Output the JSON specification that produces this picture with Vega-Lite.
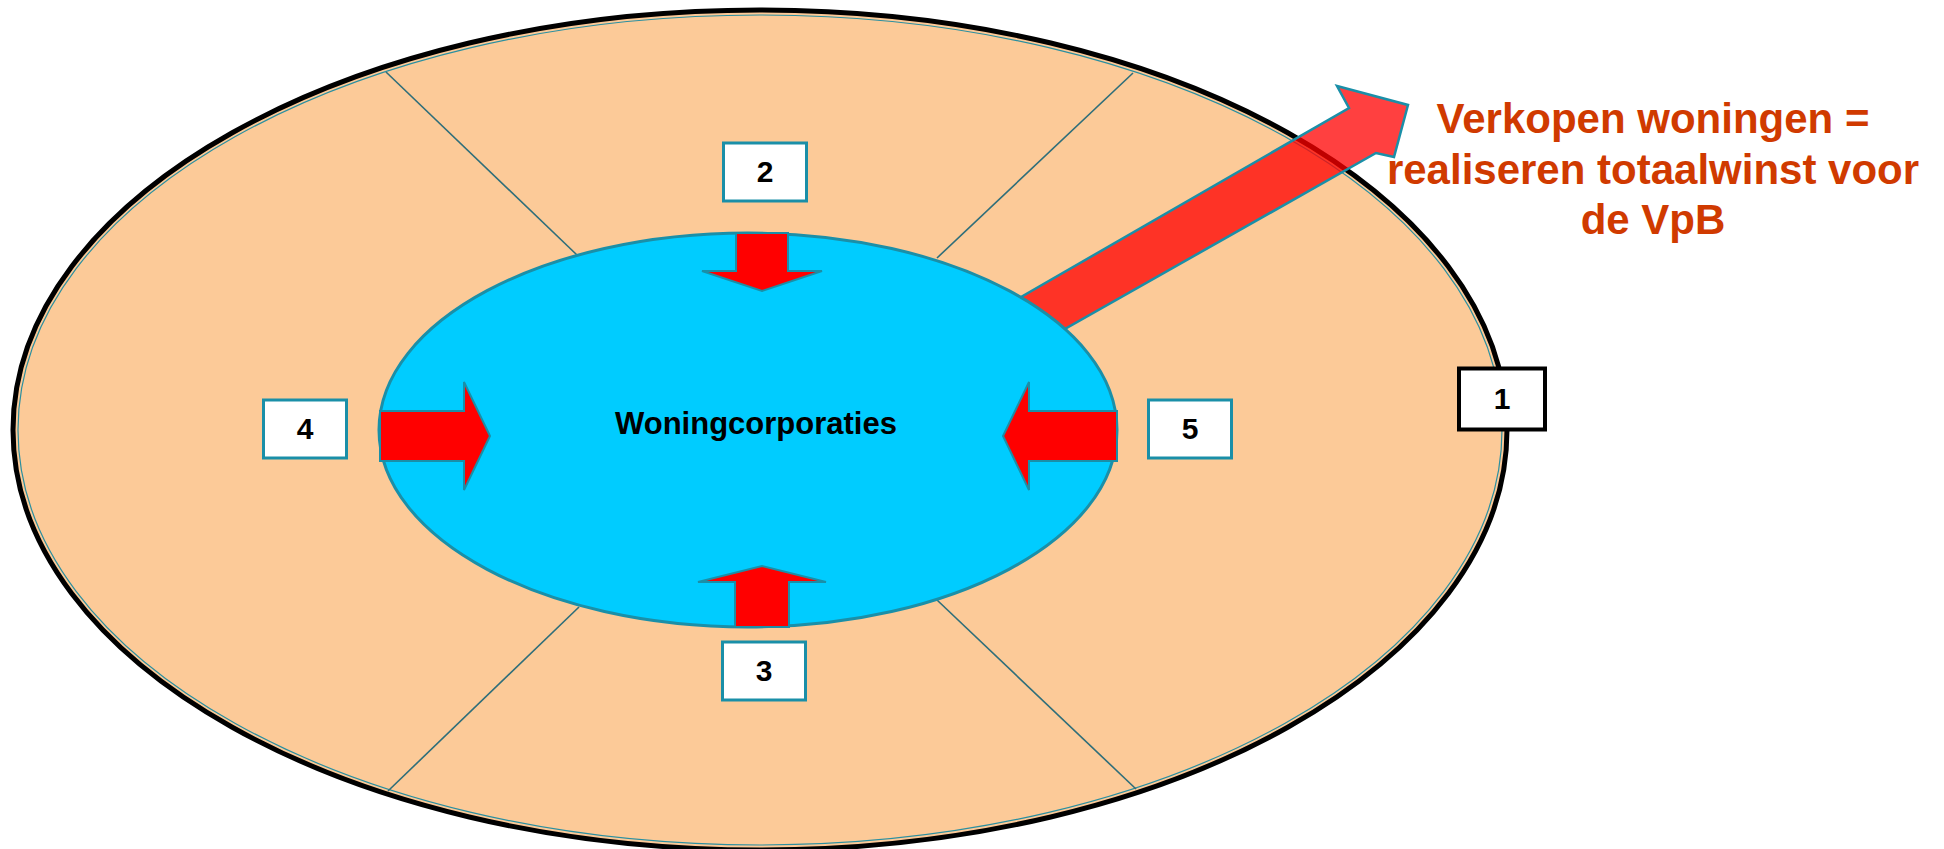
{
  "$schema": "https://vega.github.io/schema/vega-lite/v6.json",
  "width": 1944,
  "height": 849,
  "padding": 0,
  "autosize": "none",
  "background": "#FFFFFF",
  "config": {"view": {"stroke": null}},
  "encoding": {
    "x": {"field": "x", "type": "quantitative", "scale": {"domain": [0, 1944], "nice": false, "zero": false}, "axis": null},
    "y": {"field": "y", "type": "quantitative", "scale": {"domain": [0, 849], "nice": false, "zero": false, "reverse": true}, "axis": null}
  },
  "layer": [
    {
      "data": {"values": [{"vorm": "buitenring", "x": 760, "y": 430}]},
      "mark": {"type": "point", "shape": "M -1 0 A 1 0.5622 0 1 0 1 0 A 1 0.5622 0 1 0 -1 0 Z", "size": 2232036, "filled": true, "fill": "#FCCA98", "stroke": "#000000", "strokeWidth": 5, "opacity": 1}
    },
    {
      "data": {"values": [{"vorm": "buitenrand", "x": 760, "y": 430}]},
      "mark": {"type": "point", "shape": "M -1 0 A 1 0.5593 0 1 0 1 0 A 1 0.5593 0 1 0 -1 0 Z", "size": 2202256, "filled": false, "stroke": "#2A8FA0", "strokeWidth": 1.2, "opacity": 1}
    },
    {
      "data": {"values": [
        {"lijn": "A", "x": 386, "y": 72, "x2": 577, "y2": 255},
        {"lijn": "B", "x": 1133, "y": 73, "x2": 937, "y2": 258},
        {"lijn": "C", "x": 579, "y": 607, "x2": 388, "y2": 791},
        {"lijn": "D", "x": 937, "y": 600, "x2": 1136, "y2": 789}
      ]},
      "mark": {"type": "rule", "stroke": "#2E6E7A", "strokeWidth": 1.6},
      "encoding": {
        "x2": {"field": "x2"},
        "y2": {"field": "y2"}
      }
    },
    {
      "data": {"values": [{"pijl": "verkoop", "x": 1215, "y": 215}]},
      "mark": {"type": "point", "shape": "M -220 97 L 134 -107 L 122 -129 L 193 -110 L 179 -58 L 161 -62 L -175 128 Z", "size": 4, "filled": true, "fill": "#FF0000", "fillOpacity": 0.75, "stroke": "#1A8FA8", "strokeWidth": 2.5, "strokeOpacity": 1, "opacity": 1}
    },
    {
      "data": {"values": [{"vorm": "Woningcorporaties", "x": 748, "y": 430}]},
      "mark": {"type": "point", "shape": "M -1 0 A 1 0.5339 0 1 0 1 0 A 1 0.5339 0 1 0 -1 0 Z", "size": 544644, "filled": true, "fill": "#00CCFF", "stroke": "#1A8FA8", "strokeWidth": 3, "opacity": 1}
    },
    {
      "data": {"values": [
        {"richting": "omlaag", "x": 762, "y": 262},
        {"richting": "omhoog", "x": 762, "y": 597},
        {"richting": "rechts", "x": 435, "y": 436},
        {"richting": "links", "x": 1060, "y": 436}
      ]},
      "mark": {"type": "point", "size": 4, "filled": true, "fill": "#FF0000", "stroke": "#1A8FA8", "strokeWidth": 2, "opacity": 1},
      "encoding": {
        "shape": {
          "field": "richting", "type": "nominal", "legend": null,
          "scale": {
            "domain": ["omlaag", "omhoog", "rechts", "links"],
            "range": [
              "M -26 -29 L 26 -29 L 26 9 L 60 9 L 0 29 L -60 9 L -26 9 Z",
              "M -27 30 L 27 30 L 27 -15 L 64 -15 L 0 -31 L -64 -15 L -27 -15 Z",
              "M -55 -25 L 29 -25 L 29 -54 L 55 0 L 29 54 L 29 25 L -55 25 Z",
              "M 57 -25 L -31 -25 L -31 -54 L -57 0 L -31 54 L -31 25 L 57 25 Z"
            ]
          }
        }
      }
    },
    {
      "data": {"values": [
        {"label": "2", "x": 765, "y": 172},
        {"label": "3", "x": 764, "y": 671},
        {"label": "4", "x": 305, "y": 429},
        {"label": "5", "x": 1190, "y": 429}
      ]},
      "mark": {"type": "point", "shape": "M -41.5 -29 L 41.5 -29 L 41.5 29 L -41.5 29 Z", "size": 4, "filled": true, "fill": "#FFFFFF", "stroke": "#1A8FA8", "strokeWidth": 3, "opacity": 1}
    },
    {
      "data": {"values": [{"label": "1", "x": 1502, "y": 399}]},
      "mark": {"type": "point", "shape": "M -43 -30.5 L 43 -30.5 L 43 30.5 L -43 30.5 Z", "size": 4, "filled": true, "fill": "#FFFFFF", "stroke": "#000000", "strokeWidth": 4, "opacity": 1}
    },
    {
      "data": {"values": [
        {"label": "1", "x": 1502, "y": 400},
        {"label": "2", "x": 765, "y": 173},
        {"label": "3", "x": 764, "y": 672},
        {"label": "4", "x": 305, "y": 430},
        {"label": "5", "x": 1190, "y": 430}
      ]},
      "mark": {"type": "text", "font": "Liberation Sans", "fontWeight": "bold", "fontSize": 30, "align": "center", "baseline": "middle", "fill": "#000000"},
      "encoding": {"text": {"field": "label"}}
    },
    {
      "data": {"values": [{"tekst": "Woningcorporaties", "x": 756, "y": 425}]},
      "mark": {"type": "text", "font": "Liberation Sans", "fontWeight": "bold", "fontSize": 31, "align": "center", "baseline": "middle", "fill": "#000000"},
      "encoding": {"text": {"field": "tekst"}}
    },
    {
      "data": {"values": [{"tekst": "Verkopen woningen =\nrealiseren totaalwinst voor\nde VpB", "x": 1653, "y": 100}]},
      "mark": {"type": "text", "font": "Liberation Sans", "fontWeight": "bold", "fontSize": 42, "align": "center", "baseline": "top", "lineBreak": "\n", "lineHeight": 50.5, "fill": "#D03A00"},
      "encoding": {"text": {"field": "tekst"}}
    }
  ]
}
